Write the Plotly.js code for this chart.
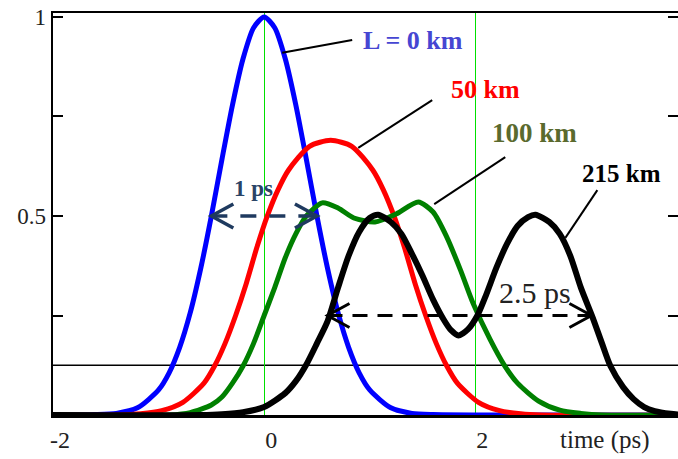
<!DOCTYPE html>
<html>
<head>
<meta charset="utf-8">
<script src="https://cdn.plot.ly/plotly-3.0.1.min.js"></script>
<style>
html, body { margin: 0; padding: 0; background: #ffffff; overflow: hidden; }
#chart { width: 678px; height: 459px; }
</style>
</head>
<body>
<div id="chart"></div>
<script>
// ---- data (time in ps, normalized intensity) ----
const tBlue = [-2.0, -1.6, -1.4, -1.2, -1.0, -0.9, -0.8, -0.7, -0.6, -0.5, -0.4, -0.3, -0.2, -0.1, 0.0,
               0.1, 0.2, 0.3, 0.4, 0.5, 0.6, 0.7, 0.8, 0.9, 1.0, 1.2, 1.4, 1.6, 2.0, 3.92];
const vBlue = [0, 0.001, 0.004, 0.018, 0.063, 0.106, 0.17, 0.257, 0.369, 0.5, 0.642, 0.779, 0.895, 0.973, 1.0,
               0.973, 0.895, 0.779, 0.642, 0.5, 0.369, 0.257, 0.17, 0.106, 0.063, 0.018, 0.004, 0.001, 0, 0];

const tRed = [-2.0, -1.37, -1.17, -0.97, -0.77, -0.57, -0.47, -0.37, -0.27, -0.17, -0.07, 0.03, 0.13, 0.23, 0.43, 0.63,
              0.83, 1.03, 1.13, 1.23, 1.33, 1.43, 1.53, 1.63, 1.73, 1.83, 2.03, 2.23, 2.43, 2.63, 3.92];
const vRed = [0, 0, 0.003, 0.011, 0.032, 0.08, 0.123, 0.18, 0.25, 0.33, 0.42, 0.50, 0.565, 0.615, 0.675, 0.69,
              0.675, 0.615, 0.565, 0.50, 0.42, 0.33, 0.25, 0.18, 0.123, 0.08, 0.032, 0.011, 0.003, 0, 0];

const tGreen = [-2.0, -0.9, -0.7, -0.5, -0.4, -0.3, -0.2, -0.1, 0.0, 0.1, 0.2, 0.3, 0.4, 0.55, 0.7, 0.85, 1.05,
                1.25, 1.46, 1.6, 1.73, 1.86, 1.98, 2.14, 2.28, 2.4, 2.6, 2.8, 3.0, 3.2, 3.92];
const vGreen = [0, 0, 0.006, 0.025, 0.045, 0.08, 0.123, 0.18, 0.25, 0.32, 0.395, 0.455, 0.5, 0.533, 0.52, 0.495, 0.485,
                0.505, 0.535, 0.51, 0.447, 0.364, 0.28, 0.19, 0.123, 0.08, 0.035, 0.012, 0.004, 0, 0];

const tBlack = [-2.0, -0.6, -0.4, -0.2, 0.0, 0.2, 0.3, 0.4, 0.5, 0.6, 0.7, 0.8, 0.9, 1.0, 1.08, 1.2, 1.3, 1.4, 1.5, 1.6,
                1.7, 1.77, 1.84, 1.93, 2.02, 2.1, 2.2, 2.3, 2.4, 2.5, 2.57, 2.7, 2.8, 2.9, 3.0, 3.11, 3.2, 3.28,
                3.4, 3.5, 3.6, 3.7, 3.85, 3.92];
const vBlack = [0, 0, 0.002, 0.007, 0.02, 0.055, 0.085, 0.127, 0.18, 0.235, 0.32, 0.40, 0.46, 0.495, 0.503, 0.485, 0.455,
                0.405, 0.35, 0.29, 0.24, 0.213, 0.2, 0.215, 0.25, 0.3, 0.37, 0.43, 0.475, 0.497, 0.503, 0.485,
                0.455, 0.40, 0.32, 0.246, 0.18, 0.123, 0.07, 0.04, 0.02, 0.01, 0.003, 0.001];

const seriesNames = ["L = 0 km", "50 km", "100 km", "215 km"];
const xTickVals = [-2, 0, 2];
const xTickText = ["-2", "0", "2"];
const yTickVals = [0.25, 0.5, 0.75, 1];
const yTickText = ["", "0.5", "", "1"];
const refLevel = 0.125;            // horizontal reference line
const fwhmStart = -0.5, fwhmEnd = 0.5, fwhmLevel = 0.5;        // "1 ps" arrow
const spanStart = 0.6, spanEnd = 3.1, spanLevel = 0.25;        // "2.5 ps" arrow

const serif = "Liberation Serif, Times New Roman, serif";

function curve(t, v, color, width, name) {
  return { x: t, y: v, type: "scatter", mode: "lines", name: name,
           line: { color: color, width: width, shape: "spline", smoothing: 0.7 },
           hoverinfo: "skip" };
}

const traces = [
  curve(tBlue, vBlue, "#0000ff", 5, seriesNames[0]),
  curve(tRed, vRed, "#ff0000", 5, seriesNames[1]),
  curve(tGreen, vGreen, "#008000", 5, seriesNames[2]),
  curve(tBlack, vBlack, "#000000", 6, seriesNames[3])
];

function leader(x0, y0, x1, y1) {
  return { type: "line", xref: "x", yref: "y", x0: x0, y0: y0, x1: x1, y1: y1,
           line: { color: "#000000", width: 2 }, layer: "above" };
}
function chevron(xa, ya, dir, color, w) {
  const d = dir * 22;
  return { type: "path", xref: "x", yref: "y", xsizemode: "pixel", ysizemode: "pixel",
           xanchor: xa, yanchor: ya, path: `M ${d} 12 L 0 0 L ${d} -12`,
           line: { color: color, width: w }, fillcolor: "rgba(0,0,0,0)", layer: "above" };
}

const navy = "#1f3a5f";
const shapes = [
  { type: "line", xref: "paper", yref: "y", x0: 0, x1: 1, y0: refLevel, y1: refLevel,
    line: { color: "#000000", width: 1.6 }, layer: "below" },
  leader(0.171, 0.910, 0.834, 0.942),
  leader(0.891, 0.671, 1.592, 0.791),
  leader(1.611, 0.530, 2.284, 0.648),
  leader(2.853, 0.445, 3.156, 0.565),
  { type: "line", xref: "x", yref: "y", x0: fwhmStart, x1: fwhmEnd, y0: fwhmLevel, y1: fwhmLevel,
    line: { color: navy, width: 3.5, dash: "16px,13px" }, layer: "above" },
  chevron(fwhmStart, fwhmLevel, 1, navy, 3.5),
  chevron(fwhmEnd, fwhmLevel, -1, navy, 3.5),
  { type: "line", xref: "x", yref: "y", x0: spanStart, x1: spanEnd, y0: spanLevel, y1: spanLevel,
    line: { color: "#000000", width: 3, dash: "15px,10px" }, layer: "above" },
  chevron(spanStart, spanLevel, 1, "#000000", 3),
  chevron(spanEnd, spanLevel, -1, "#000000", 3)
];

function label(text, x, y, color, size, bold) {
  return { text: bold ? "<b>" + text + "</b>" : text, x: x, y: y, xref: "x", yref: "y",
           showarrow: false, xanchor: "center", yanchor: "middle",
           font: { family: serif, size: size, color: color } };
}

const annotations = [
  label(seriesNames[0], 1.412, 0.94, "#4646d2", 26, true),
  label(seriesNames[1], 2.095, 0.819, "#ff0000", 26, true),
  label(seriesNames[2], 2.559, 0.709, "#5a6a2e", 27, true),
  label(seriesNames[3], 3.384, 0.608, "#000000", 25, true),
  label("1 ps", -0.104, 0.570, "#2a4466", 23, true),
  label("2.5 ps", 2.569, 0.307, "#222222", 30, false),
  { text: "time (ps)", xref: "paper", yref: "paper", x: 0.883, y: 0, yanchor: "top", xanchor: "center",
    yshift: -9, showarrow: false, font: { family: serif, size: 25, color: "#222222" } }
];

const layout = {
  width: 678, height: 459,
  margin: { l: 53, r: 0, t: 13, b: 44, pad: 0 },
  paper_bgcolor: "#ffffff", plot_bgcolor: "#ffffff",
  showlegend: false,
  xaxis: {
    range: [-2, 3.92], tickvals: xTickVals, ticktext: xTickText,
    showline: true, linecolor: "#000000", linewidth: 2.5, mirror: true,
    showgrid: true, gridcolor: "#00e000", gridwidth: 1, zeroline: false,
    ticks: "", ticklabelshift: 7, ticklabelstandoff: 2,
    tickfont: { family: serif, size: 24, color: "#222222" }, fixedrange: true
  },
  yaxis: {
    range: [0, 1.01], tickvals: yTickVals, ticktext: yTickText,
    showline: true, linecolor: "#000000", linewidth: 2.5, mirror: "ticks",
    ticks: "inside", ticklen: 10, tickwidth: 2, tickcolor: "#000000",
    showgrid: false, zeroline: false,
    tickfont: { family: serif, size: 23, color: "#222222" }, fixedrange: true
  },
  shapes: shapes,
  annotations: annotations
};

Plotly.newPlot("chart", traces, layout, { displayModeBar: false, staticPlot: true });
</script>
</body>
</html>
